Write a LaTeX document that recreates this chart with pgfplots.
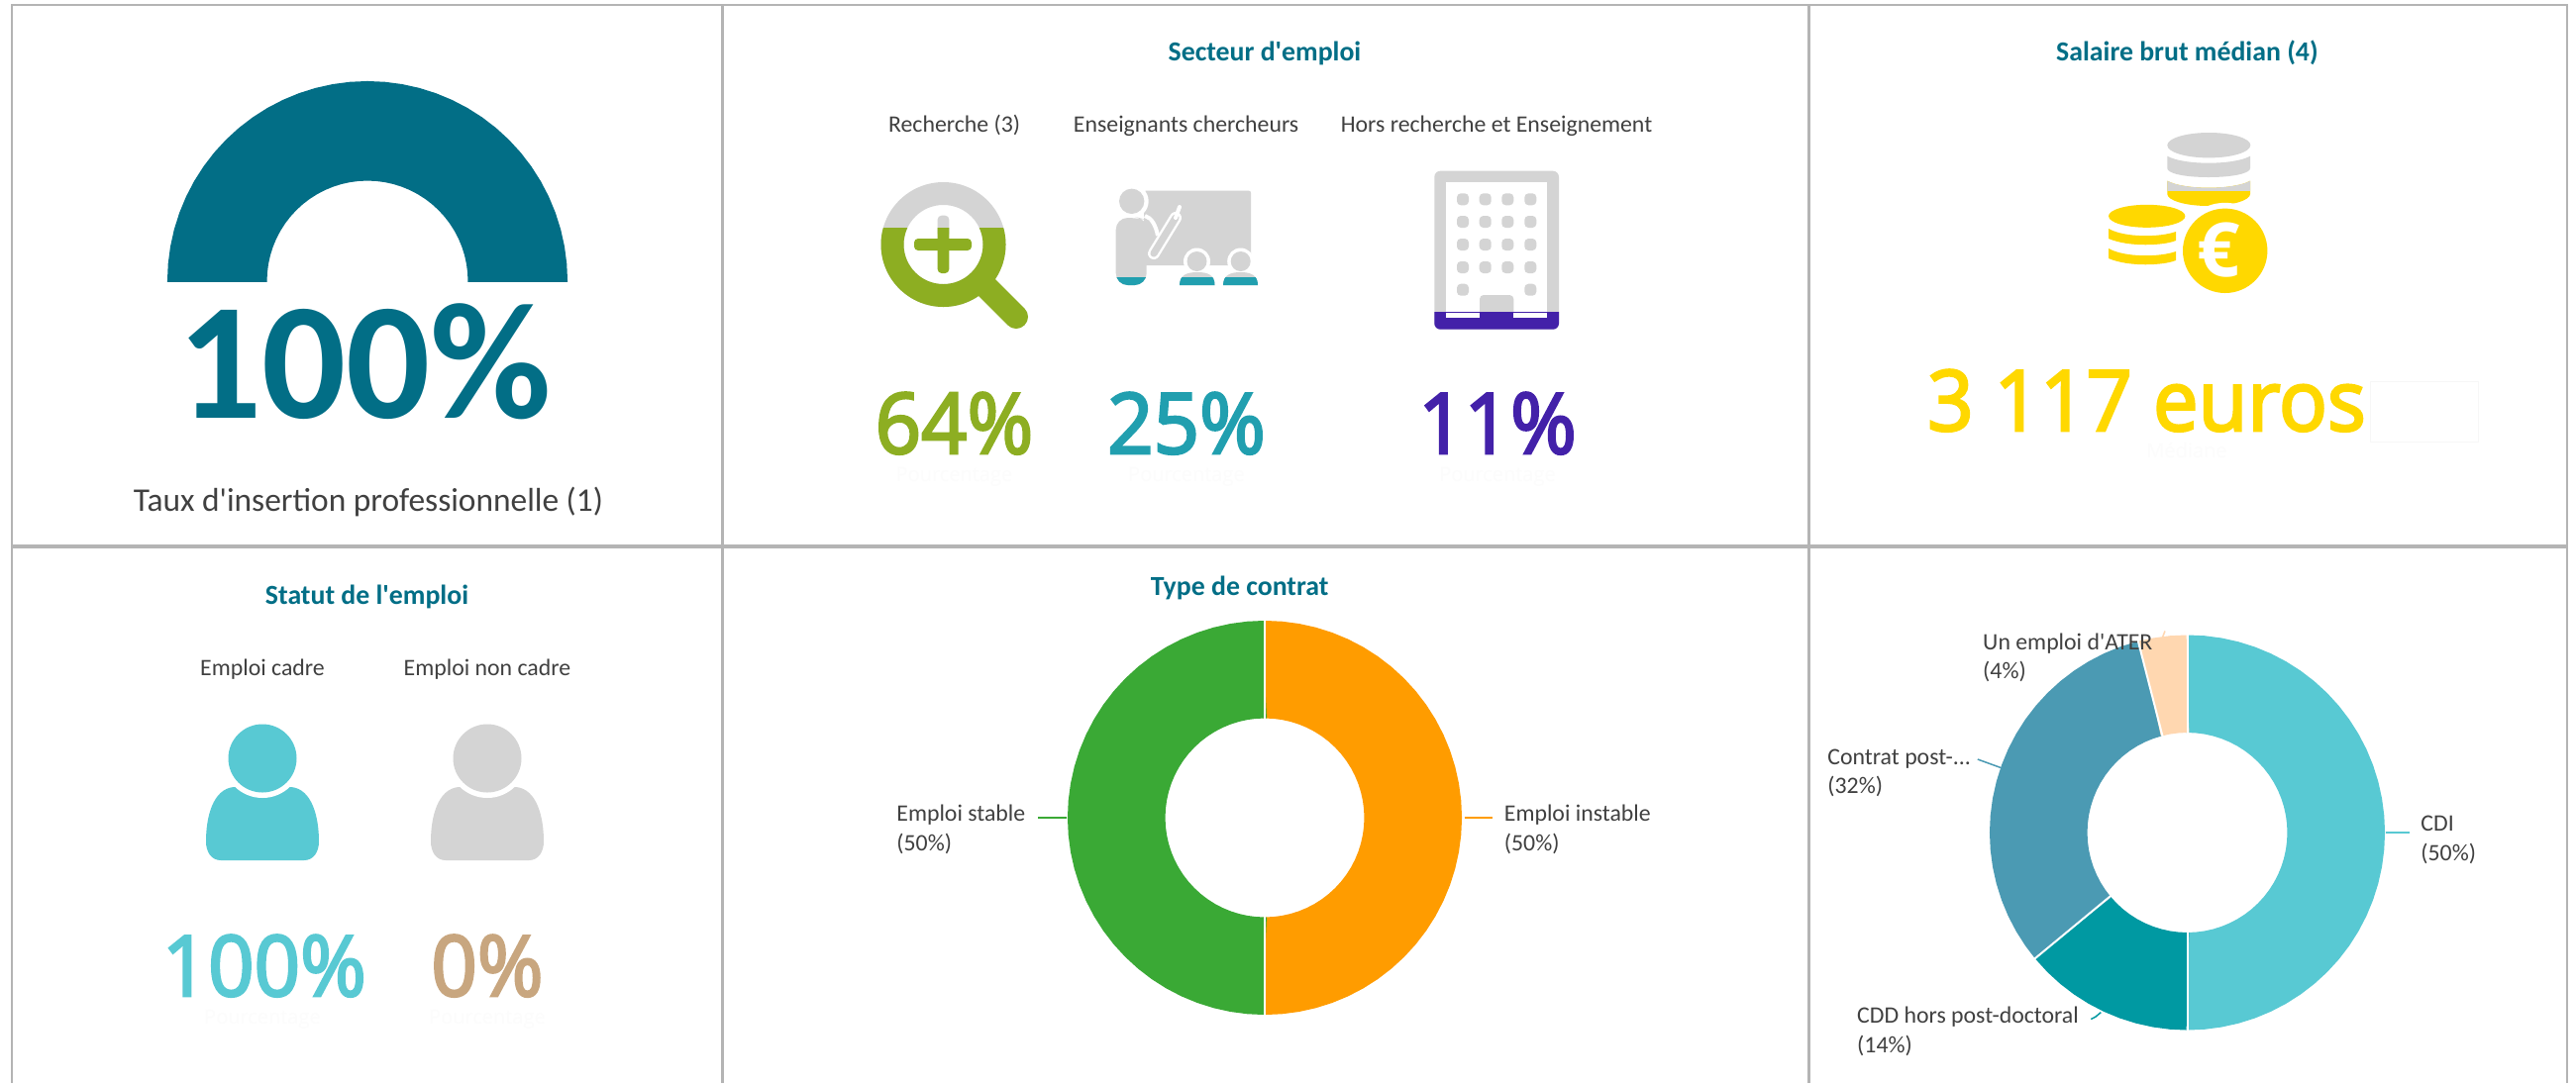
\documentclass[border=0pt]{standalone}
\usepackage{fontspec}
\usepackage{pgfplots}
\pgfplotsset{compat=1.18}
\newfontfamily\carl{Carlito}
\newfontfamily\os{Open Sans}
\newfontfamily\osb[FakeBold=3,FakeStretch=0.955]{Open Sans}
\definecolor{frame}{HTML}{B4B4B4}
\definecolor{teal1}{HTML}{026E86}
\definecolor{lab}{HTML}{404040}
\definecolor{gr}{HTML}{D4D4D4}
\definecolor{green1}{HTML}{8DAE22}
\definecolor{teal2}{HTML}{219FAF}
\definecolor{purp}{HTML}{4321A9}
\definecolor{yel}{HTML}{FFD800}
\definecolor{cyan1}{HTML}{58C9D3}
\definecolor{tan1}{HTML}{C8A67F}
\definecolor{orange1}{HTML}{FF9C00}
\definecolor{green2}{HTML}{3AA935}
\definecolor{cdd}{HTML}{0099A2}
\definecolor{post}{HTML}{4B9AB3}
\definecolor{ater}{HTML}{FFD7B0}
\definecolor{faint}{HTML}{FCFCFC}
\definecolor{faintb}{HTML}{F7F7F7}
\pgfplotsset{ring/.style={hide axis,scale only axis,width=250pt,height=250pt,
  xmin=-250,xmax=250,ymin=-250,ymax=250,clip=false,anchor=center}}
\newcommand\Lab[4][lab]{\node[anchor=base,inner sep=0pt,text=#1] at (#2,#3) {\carl\fontsize{11.9}{14}\selectfont #4};}
\newcommand\LabL[3]{\node[anchor=base west,inner sep=0pt,text=lab] at (#1,#2) {\carl\fontsize{11.9}{14}\selectfont #3};}
\newcommand\Ttl[3]{\node[anchor=base,inner sep=0pt,text=teal1] at (#1,#2) {\carl\bfseries\fontsize{13.9}{16}\selectfont #3};}
\newcommand\BigN[4]{\node[anchor=base,inner sep=0pt,text=#1] at (#2,#3) {\osb\fontsize{42.5}{50}\selectfont #4};}
\newcommand\Fnt[3]{\node[anchor=base,inner sep=0pt,text=faint] at (#1,#2) {\os\fontsize{10}{12}\selectfont #3};}
\begin{document}
\begin{tikzpicture}
\useasboundingbox (0pt,0pt) rectangle (1300.5pt,-547pt);
\begin{scope}[x=0.5pt,y=-0.5pt]
% frames
\fill[white] (0,0) rectangle (2601,1094);
\draw[frame,line width=1pt] (11,5) -- (2593,5);
\draw[frame,line width=2pt] (11,552) -- (2593,552);
\draw[frame,line width=1.25pt] (12,4) -- (12,1094);
\draw[frame,line width=1.5pt] (729.5,4) -- (729.5,1094);
\draw[frame,line width=1.5pt] (1826.5,4) -- (1826.5,1094);
\draw[frame,line width=1.25pt] (2592,4) -- (2592,1094);
% magnifier
\newcommand\magn{(952.5,247) circle (63) (952.5,247) circle (40)}
\fill[gr,even odd rule] \magn;
\fill[gr,rounded corners=2] (946.7,217.7) rectangle (958.3,240);
\begin{scope}
\clip (880,230) rectangle (1040,330);
\fill[green1,even odd rule] \magn;
\fill[green1,rounded corners=2] (946.7,217.7) rectangle (958.3,276);
\end{scope}
\fill[green1,rounded corners=2] (923,241) rectangle (981,253);
\draw[green1,line width=12pt,line cap=round] (994,288) -- (1026,320);
% teacher
\fill[gr,rounded corners=1] (1155,192.7) rectangle (1263,268);
\fill[white] (1142.7,203.3) circle (17);
\draw[white,line width=6pt,line cap=round] (1165,256) -- (1187,220);
\draw[gr,line width=3.6pt,line cap=round] (1165,256) -- (1187,220);
\draw[white,line width=2pt,line cap=round] (1187,220) -- (1191,209);
\draw[white,line width=2pt] (1156,218) .. controls (1163,220) and (1167,228) .. (1169,238);
\newcommand\tfig[1]{%
\fill[#1] (1142.7,203.3) circle (12.7);
\fill[#1,rounded corners=6] (1126.7,288) -- (1126.7,220) -- (1150,220) -- (1157.7,222) -- (1166.5,238) -- (1157.7,252) -- (1157.7,288) -- cycle;
\fill[#1] (1191,288) .. controls (1191,278) and (1198,275) .. (1209,275) .. controls (1220,275) and (1226.5,278) .. (1226.5,288) -- cycle;
\fill[#1] (1235,288) .. controls (1235,278) and (1242,275) .. (1252.7,275) .. controls (1263,275) and (1270,278) .. (1270,288) -- cycle;
\fill[#1] (1208.5,264) circle (10);
\fill[#1] (1252.7,264) circle (10);}
\fill[white] (1208.5,264) circle (13.5);
\fill[white] (1252.7,264) circle (13.5);
\tfig{gr}
\begin{scope}
\clip (1120,280) rectangle (1280,290);
\tfig{teal2}
\end{scope}
% building
\fill[gr,rounded corners=3] (1448.3,172.7) rectangle (1574,332.7);
\fill[white] (1460,184.3) rectangle (1562.3,321);
\fill[gr,rounded corners=2] (1494,298) rectangle (1528.3,321);
\foreach \y in {201.3,224,247,270}
  \foreach \x in {1477,1499.7,1522.3,1545.3}
    \fill[gr,rounded corners=2] (\x-6,\y-6) rectangle (\x+6,\y+6);
\foreach \x in {1477,1545.3}
  \fill[gr,rounded corners=2] (\x-6,286.7) rectangle (\x+6,298.7);
\begin{scope}
\clip (1440,315.7) rectangle (1580,340);
\fill[purp,rounded corners=3] (1448.3,172.7) rectangle (1574,332.7);
\end{scope}
\fill[white] (1460,315.7) rectangle (1494,321);
\fill[white] (1528.3,315.7) rectangle (1562.3,321);
% coins
\fill[gr] (2230.3,146.7) ellipse (42 and 12.7);
\fill[gr] (2188.3,157.7) .. controls (2205,167) and (2255,167) .. (2272,157.7) -- (2272,170) .. controls (2272,175) and (2255,179) .. (2230,179) .. controls (2205,179) and (2188.3,175) .. (2188.3,170) -- cycle;
\newcommand\bandC{(2188.3,182.7) .. controls (2205,192) and (2255,192) .. (2272,182.7) -- (2272,196) .. controls (2272,202) and (2255,208) .. (2230,208) .. controls (2205,208) and (2188.3,202) .. (2188.3,196) -- cycle}
\fill[yel] \bandC;
\begin{scope}
\clip (2180,170) rectangle (2280,192.7);
\fill[gr] \bandC;
\end{scope}
\fill[yel] (2167.7,218.3) ellipse (38.7 and 11.5);
\fill[yel] (2129,231) .. controls (2145,240) and (2180,240) .. (2197,234) -- (2197,243) .. controls (2185,248) and (2150,250) .. (2129,241) -- cycle;
\fill[yel] (2129,251) .. controls (2145,260) and (2180,260) .. (2197,254) -- (2197,263) .. controls (2185,268) and (2150,270) .. (2129,261) -- cycle;
\fill[white] (2246.7,253.3) circle (48.5);
\fill[yel] (2246.7,253.3) circle (42.7);
\node[text=white,inner sep=0pt] at (2240,253) {\os\bfseries\fontsize{38}{40}\selectfont €};
% persons
\foreach \cx/\cc in {265/cyan1,492/gr}{
\fill[\cc] (\cx-29,795) .. controls (\cx-50,797) and (\cx-57,825) .. (\cx-57,850) .. controls (\cx-57,860) and (\cx-52,869) .. (\cx-42,869) -- (\cx+42,869) .. controls (\cx+52,869) and (\cx+57,860) .. (\cx+57,850) .. controls (\cx+57,825) and (\cx+50,797) .. (\cx+29,795) -- cycle;
\fill[white] (\cx,766) circle (40);
\fill[\cc] (\cx,766) circle (34.5);
}
% faint box
\draw[faintb,line width=0.5pt] (2393,385) rectangle (2502,446);
\end{scope}
% gauge: 100 %  (clipped flat at the base line)
\begin{axis}[ring,ymin=0,height=125pt,anchor=south,clip=true,at={(371*0.5pt,-284*0.5pt)}]
\addplot[teal1,line width=50.25pt,forget plot,data cs=polar] coordinates {(190,151.75)(185,151.75)(180,151.75)(175,151.75)(170,151.75)(165,151.75)(160,151.75)(155,151.75)(150,151.75)(145,151.75)(140,151.75)(135,151.75)(130,151.75)(125,151.75)(120,151.75)(115,151.75)(110,151.75)(105,151.75)(100,151.75)(95,151.75)(90,151.75)(85,151.75)(80,151.75)(75,151.75)(70,151.75)(65,151.75)(60,151.75)(55,151.75)(50,151.75)(45,151.75)(40,151.75)(35,151.75)(30,151.75)(25,151.75)(20,151.75)(15,151.75)(10,151.75)(5,151.75)(0,151.75)(-5,151.75)(-10,151.75)};
\end{axis}
% type de contrat: 50 / 50
\begin{axis}[ring,at={(1277*0.5pt,-826*0.5pt)}]
\addplot[orange1,line width=49.25pt,data cs=polar] coordinates {(90,149.75)(89.9,149.75)(85,149.75)(80,149.75)(75,149.75)(70,149.75)(65,149.75)(60,149.75)(55,149.75)(50,149.75)(45,149.75)(40,149.75)(35,149.75)(30,149.75)(25,149.75)(20,149.75)(15,149.75)(10,149.75)(5,149.75)(0,149.75)(-5,149.75)(-10,149.75)(-15,149.75)(-20,149.75)(-25,149.75)(-30,149.75)(-35,149.75)(-40,149.75)(-45,149.75)(-50,149.75)(-55,149.75)(-60,149.75)(-65,149.75)(-70,149.75)(-75,149.75)(-80,149.75)(-85,149.75)(-89.9,149.75)(-90,149.75)};
\addplot[green2,line width=49.25pt,data cs=polar] coordinates {(90,149.75)(90.1,149.75)(95,149.75)(100,149.75)(105,149.75)(110,149.75)(115,149.75)(120,149.75)(125,149.75)(130,149.75)(135,149.75)(140,149.75)(145,149.75)(150,149.75)(155,149.75)(160,149.75)(165,149.75)(170,149.75)(175,149.75)(180,149.75)(185,149.75)(190,149.75)(195,149.75)(200,149.75)(205,149.75)(210,149.75)(215,149.75)(220,149.75)(225,149.75)(230,149.75)(235,149.75)(240,149.75)(245,149.75)(250,149.75)(255,149.75)(260,149.75)(265,149.75)(269.9,149.75)(270,149.75)};
\addplot[white,line width=1pt,data cs=polar] coordinates {(90,99)(90,200)};
\addplot[white,line width=1pt,data cs=polar] coordinates {(-90,99)(-90,200)};
\addplot[orange1,line width=0.75pt] coordinates {(201.5,0)(230,0)};
\addplot[green2,line width=0.75pt] coordinates {(-229,0)(-200,0)};
\end{axis}
% contract detail: 50 / 14 / 32 / 4
\begin{axis}[ring,at={(2208.5*0.5pt,-841*0.5pt)}]
\addplot[cyan1,line width=49.25pt,data cs=polar] coordinates {(90,150.25)(89.9,150.25)(85,150.25)(80,150.25)(75,150.25)(70,150.25)(65,150.25)(60,150.25)(55,150.25)(50,150.25)(45,150.25)(40,150.25)(35,150.25)(30,150.25)(25,150.25)(20,150.25)(15,150.25)(10,150.25)(5,150.25)(0,150.25)(-5,150.25)(-10,150.25)(-15,150.25)(-20,150.25)(-25,150.25)(-30,150.25)(-35,150.25)(-40,150.25)(-45,150.25)(-50,150.25)(-55,150.25)(-60,150.25)(-65,150.25)(-70,150.25)(-75,150.25)(-80,150.25)(-85,150.25)(-89.9,150.25)(-90,150.25)};
\addplot[cdd,line width=49.25pt,data cs=polar] coordinates {(-90,150.25)(-90.1,150.25)(-95,150.25)(-100,150.25)(-105,150.25)(-110,150.25)(-115,150.25)(-120,150.25)(-125,150.25)(-130,150.25)(-135,150.25)(-140.3,150.25)(-140.4,150.25)};
\addplot[post,line width=49.25pt,data cs=polar] coordinates {(-140.4,150.25)(-140.5,150.25)(-145,150.25)(-150,150.25)(-155,150.25)(-160,150.25)(-165,150.25)(-170,150.25)(-175,150.25)(-180,150.25)(-185,150.25)(-190,150.25)(-195,150.25)(-200,150.25)(-205,150.25)(-210,150.25)(-215,150.25)(-220,150.25)(-225,150.25)(-230,150.25)(-235,150.25)(-240,150.25)(-245,150.25)(-250,150.25)(-255.5,150.25)(-255.6,150.25)};
\addplot[ater,line width=49.25pt,data cs=polar] coordinates {(-255.6,150.25)(-255.7,150.25)(-260,150.25)(-265,150.25)(-269.9,150.25)(-270,150.25)};
\addplot[white,line width=1pt,data cs=polar] coordinates {(90,100)(90,201)};
\addplot[white,line width=1pt,data cs=polar] coordinates {(-90,100)(-90,201)};
\addplot[white,line width=1pt,data cs=polar] coordinates {(-140.4,100)(-140.4,201)};
\addplot[white,line width=1pt,data cs=polar] coordinates {(-255.6,100)(-255.6,201)};
\addplot[cyan1,line width=0.75pt] coordinates {(200.7,0)(224,0)};
\addplot[post,line width=0.75pt] coordinates {(-211.7,74)(-188.3,65.5)};
\addplot[cdd,line width=0.75pt] coordinates {(-97.2,-188.5)(-92.5,-186)(-87.2,-181.6)};
\addplot[ater,line width=0.75pt] coordinates {(-25,197.3)(-22.5,203.6)};
\end{axis}
\begin{scope}[x=0.5pt,y=-0.5pt]
% panel 1
\node[anchor=base,inner sep=0pt,text=teal1] at (368,422) {\carl\bfseries\fontsize{84}{90}\selectfont 100\%};
\node[anchor=base,inner sep=0pt,text=lab] at (372,516) {\carl\fontsize{16.7}{20}\selectfont Taux d'insertion professionnelle (1)};
% panel 2
\Ttl{1277}{61}{Secteur d'emploi}
\Lab{963.6}{133.5}{Recherche (3)}
\Lab{1197.6}{133.5}{Enseignants chercheurs}
\Lab{1511}{133.5}{Hors recherche et Enseignement}
\BigN{green1}{963.5}{458}{64\%}
\BigN{teal2}{1198}{458}{25\%}
\BigN{purp}{1512}{458}{11\%}
\Fnt{963.5}{486}{Pourcentage}
\Fnt{1198}{486}{Pourcentage}
\Fnt{1512}{486}{Pourcentage}
% panel 3
\Ttl{2208.4}{61}{Salaire brut médian (4)}
\BigN{yel}{2167.4}{435}{3 117 euros}
\Fnt{2208}{462}{Médiane}
% panel 4
\Ttl{370.5}{610}{Statut de l'emploi}
\Lab{265}{682}{Emploi cadre}
\Lab{492}{682}{Emploi non cadre}
\BigN{cyan1}{266.8}{1006}{100\%}
\BigN{tan1}{492}{1006}{0\%}
\Fnt{265}{1034}{Pourcentage}
\Fnt{492}{1034}{Pourcentage}
% panel 5
\Ttl{1251.6}{601}{Type de contrat}
\LabL{1518.5}{829.7}{Emploi instable}
\LabL{1518.5}{859.5}{(50\%)}
\LabL{905}{829.7}{Emploi stable}
\LabL{905}{859.5}{(50\%)}
% panel 6
\LabL{2444}{839.7}{CDI}
\LabL{2444}{869}{(50\%)}
\LabL{1845}{772}{Contrat post-...}
\LabL{1845}{801.6}{(32\%)}
\LabL{1874.8}{1033}{CDD hors post-doctoral}
\LabL{1874.8}{1063.5}{(14\%)}
\LabL{2001.8}{656}{Un emploi d'ATER}
\LabL{2001.8}{685}{(4\%)}
\end{scope}
\end{tikzpicture}
\end{document}
